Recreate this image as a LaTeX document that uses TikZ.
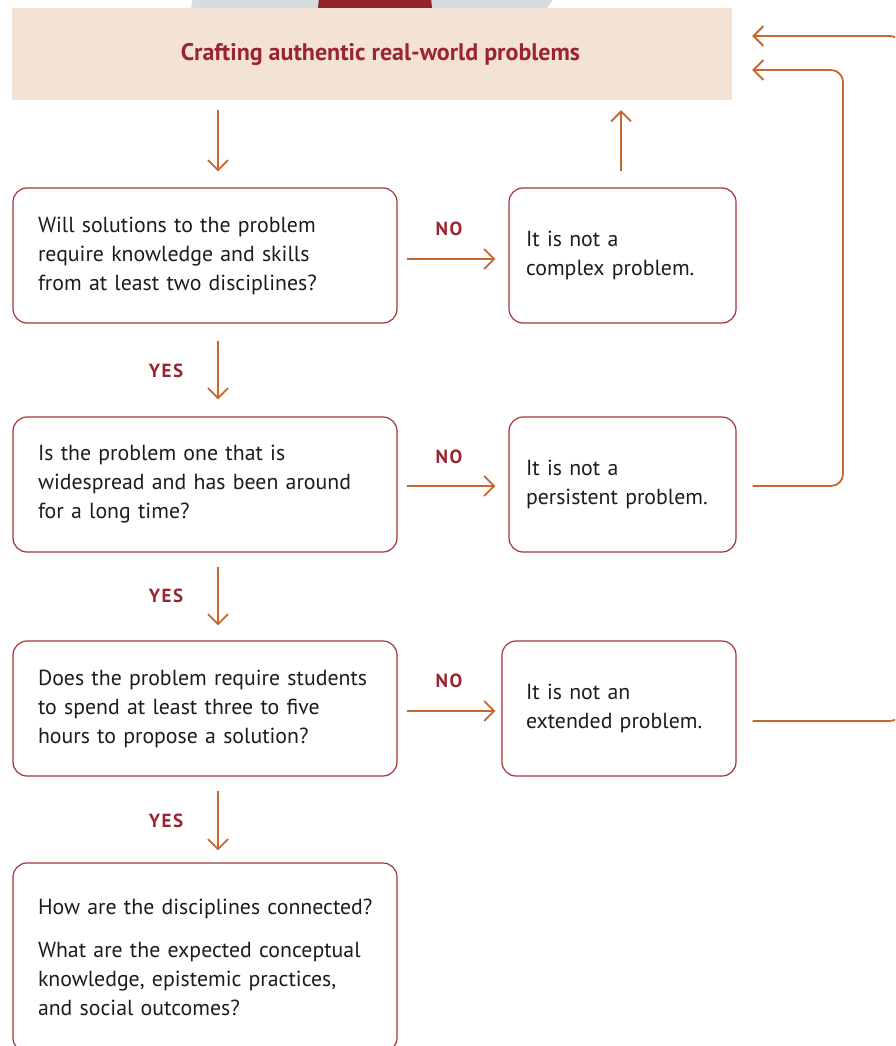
\documentclass[tikz,border=0pt]{standalone}
\usepackage{fontspec}
\setmainfont{PT Sans}
\usetikzlibrary{arrows.meta,calc}
\definecolor{beige}{HTML}{F4E3D5}
\definecolor{wine}{HTML}{9A2530}
\definecolor{boxline}{HTML}{A3343B}
\definecolor{rust}{HTML}{C8662F}
\definecolor{slate}{HTML}{D5DDE1}
\definecolor{capred}{HTML}{93232A}
\definecolor{ink}{HTML}{1C1C1C}
\begin{document}
\begin{tikzpicture}[x=1pt,y=-1pt,
  qbox/.style={draw=boxline, line width=1.2pt, rounded corners=14pt,
    minimum width=384pt, minimum height=135pt, inner xsep=25pt, inner ysep=0pt,
    text width=334pt, align=left, text=ink, font=\fontsize{21.8}{29}\selectfont},
  abox/.style={qbox, minimum width=227pt, text width=193pt, inner xsep=17pt},
  flow/.style={draw=rust, line width=1.8pt,
    -{Straight Barb[length=10pt,width=20pt,line width=1.8pt]}},
  verdict/.style={text=wine, font=\fontsize{19}{21}\selectfont\bfseries\addfontfeatures{LetterSpace=8}},
]
\useasboundingbox (0,0) rectangle (895,1046);
\clip (0,0) rectangle (895,1046);

% header tab behind the title band
\fill[slate] (191,8) -- (193,-2) -- (554,-2) -- (547,8) -- cycle;
\fill[capred] (318,8) -- (319,-2) -- (431,-2) -- (432,8) -- cycle;

% title band
\node[fill=beige, minimum width=720pt, minimum height=92pt, inner sep=0pt,
  text=wine, font=\fontsize{24}{28}\selectfont\bfseries] (title) at (372,54)
  {\hspace*{17pt}Crafting authentic real-world problems};

% questions
\node[qbox] (q1) at (205,255.5) {Will solutions to the problem\\require knowledge and skills\\from at least two disciplines?};
\node[qbox] (q2) at (205,484.5) {Is the problem one that is\\widespread and has been around\\for a long time?};
\node[qbox] (q3) at (205,708.5) {Does the problem require students\\to spend at least three to five\\hours to propose a solution?};
\node[qbox, minimum height=189pt] (q4) at (205,957.5) {\mbox{How are the disciplines connected?}\\[14pt]What are the expected conceptual\\knowledge, epistemic practices,\\and social outcomes?};

% answers
\node[abox] (a1) at (622.5,255.5) {It is not a\\complex problem.};
\node[abox] (a2) at (622.5,484.5) {It is not a\\persistent problem.};
\node[abox, minimum width=234pt, text width=186pt, inner xsep=24pt] (a3) at (619,708.5) {It is not an\\extended problem.};

% downward YES flow
\coordinate (spine) at (218,0);
\draw[flow] (title.south -| spine) ++(0,10) -- ($(q1.north -| spine)+(0,-16)$);
\draw[flow] (q1.south -| spine) ++(0,17) -- ($(q2.north -| spine)+(0,-17)$);
\draw[flow] (q2.south -| spine) ++(0,14) -- ($(q3.north -| spine)+(0,-15)$);
\draw[flow] (q3.south -| spine) ++(0,14) -- ($(q4.north -| spine)+(0,-12)$);
\node[verdict] (y1) at (166,371) {YES};
\node[verdict] (y2) at (166,596) {YES};
\node[verdict] (y3) at (166,821) {YES};

% NO branches
\draw[flow] ([shift={(9,3.5)}]q1.east) -- ([shift={(-13,3.5)}]a1.west);
\draw[flow] ([shift={(9,1.5)}]q2.east) -- ([shift={(-13,1.5)}]a2.west);
\draw[flow] ([shift={(9,2.5)}]q3.east) -- ([shift={(-6,2.5)}]a3.west);
\node[verdict] (n1) at (449,229) {NO};
\node[verdict] (n2) at (449,457) {NO};
\node[verdict] (n3) at (449,681) {NO};

% feedback to the title band
\coordinate (up) at (621,0);
\draw[flow] ($(a1.north -| up)+(0,-16)$) -- ($(title.south -| up)+(0,10)$);
\draw[flow, rounded corners=12pt] ([shift={(16,1.5)}]a2.east) -- (843,486) -- (843,70) -- ($(title.east |- 0,70)+(20,0)$);
\draw[flow, rounded corners=12pt] ([shift={(16,12.5)}]a3.east) -- (902,721) -- (902,36) -- ($(title.east |- 0,36)+(20,0)$);
\end{tikzpicture}
\end{document}
